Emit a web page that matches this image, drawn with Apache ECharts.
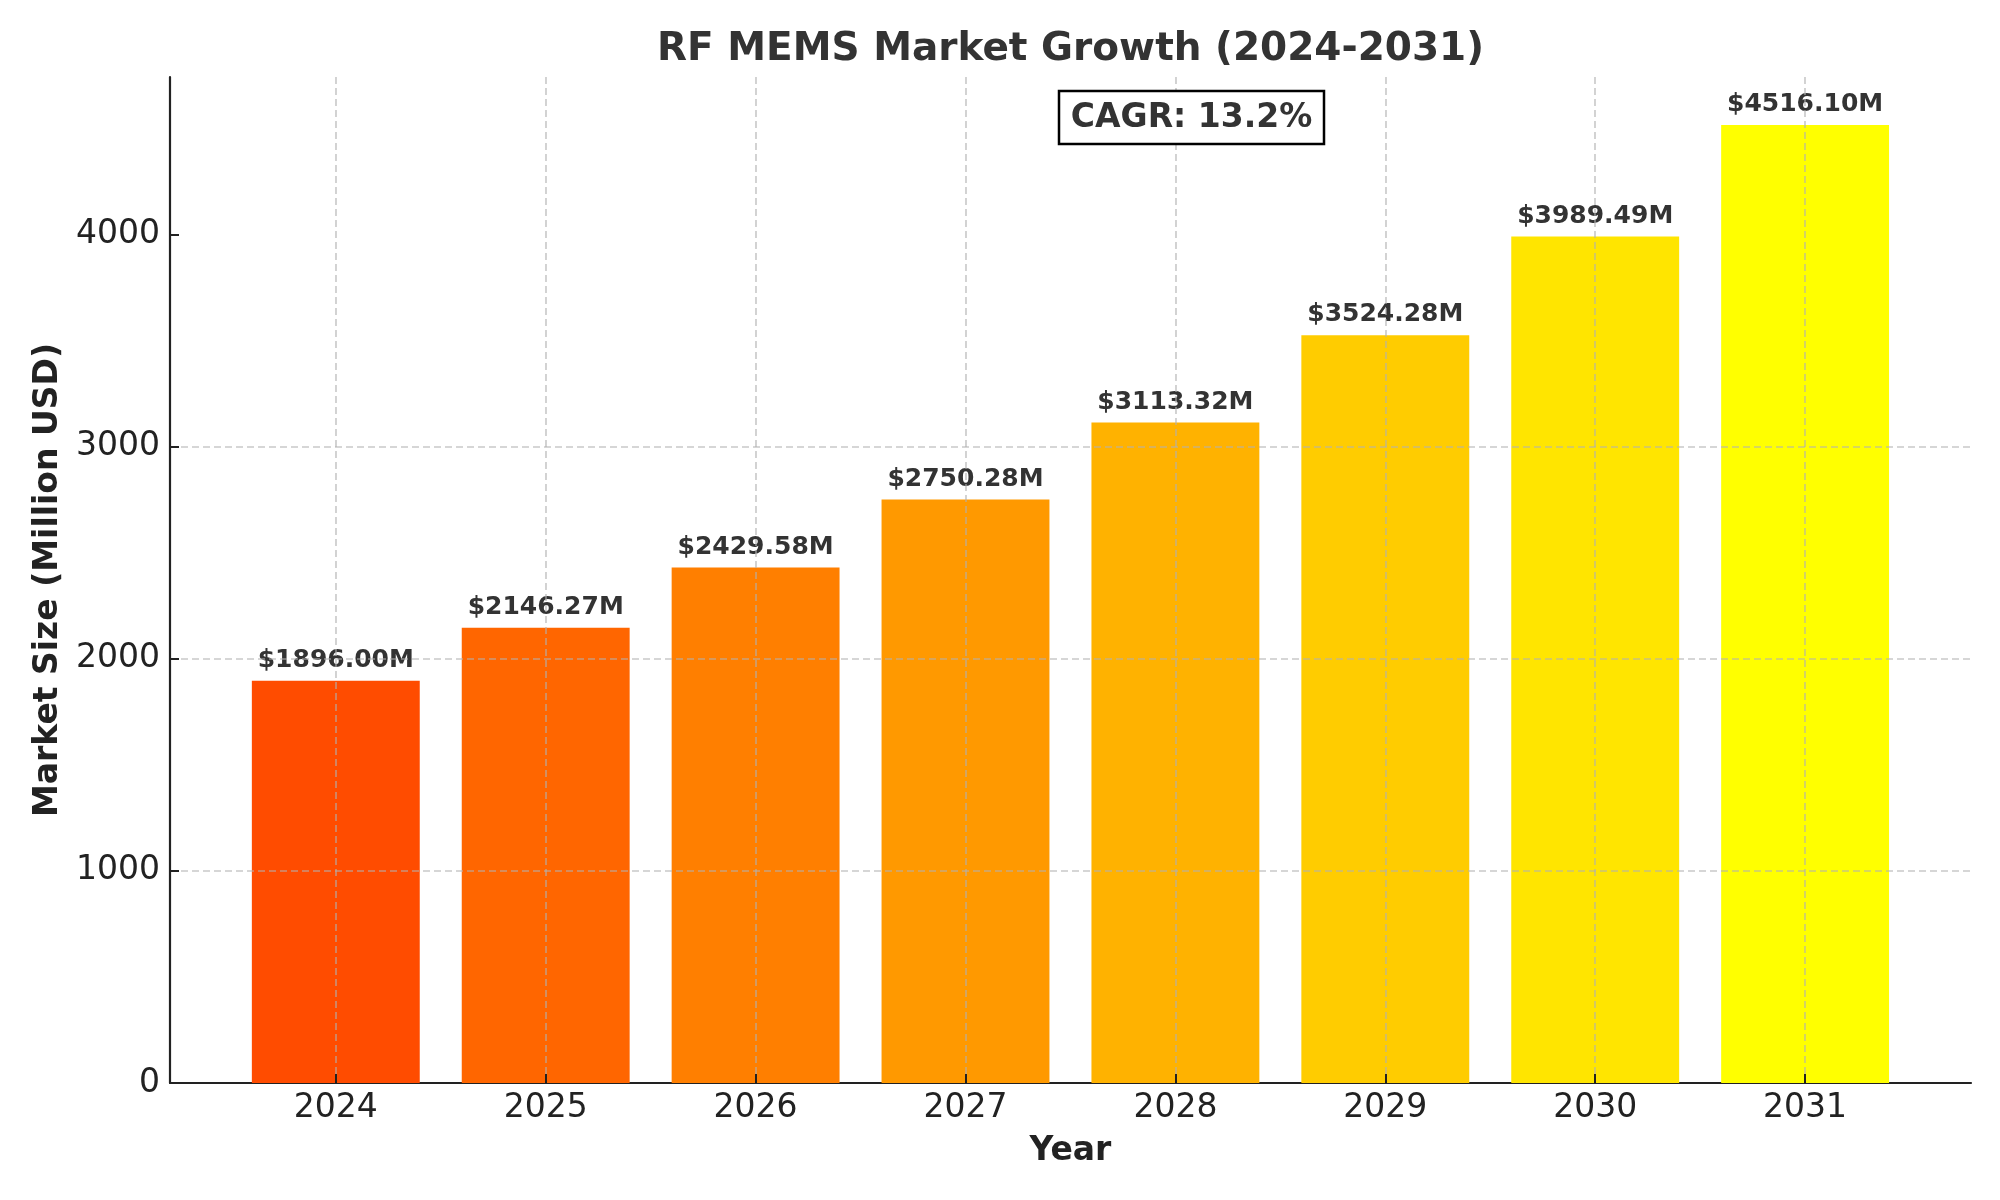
<!DOCTYPE html>
<html>
<head>
<meta charset="utf-8">
<title>RF MEMS Market Growth</title>
<script src="https://cdn.jsdelivr.net/npm/echarts@6/dist/echarts.min.js"></script>
<style>
    html, body { margin: 0; padding: 0; background: #fff; }
    #chart { width: 2000px; height: 1200px; }
</style>
</head>
<body>
<div id="chart"></div>
<script>
// data
var years = ['2024', '2025', '2026', '2027', '2028', '2029', '2030', '2031'];
var marketSize = [1896.00, 2146.27, 2429.58, 2750.28, 3113.32, 3524.28, 3989.49, 4516.10];
var yTicks = [0, 1000, 2000, 3000, 4000];
var chartTitle = 'RF MEMS Market Growth (2024-2031)';
var cagrText = 'CAGR: 13.2%';

// autumn colormap 0.3 -> 1.0
var barColors = ['#ff4c00', '#ff6600', '#ff7f00', '#ff9900', '#ffb200', '#ffcc00', '#ffe500', '#ffff00'];

(function () {
    var font = 'DejaVu Sans';
    var yMax = 4741.9;   // matplotlib margin
    var gridLine = {
        show: true,
        lineStyle: { color: 'rgba(176,176,176,0.7)', width: 1.6, type: [7, 4] }
    };

    var barData = [];
    for (var i = 0; i < marketSize.length; i++) {
        barData.push({ value: marketSize[i], itemStyle: { color: barColors[i] } });
    }

    var option = {
        animation: false,
        backgroundColor: '#fff',
        grid: [
            // frame (spines + y axis)
            { left: 170, right: 29, top: 77, bottom: 117 },
            // bar positions, category 0 and 7 centres
            { left: 335.8, right: 194.9, top: 77, bottom: 117 }
        ],
        xAxis: [
            {
                gridIndex: 0, type: 'value', min: 0, max: 1,
                axisLine: { show: true, lineStyle: { color: '#222', width: 2.2 } },
                axisTick: { show: false }, axisLabel: { show: false }, splitLine: { show: false }
            },
            {
                gridIndex: 1, type: 'category', data: years, boundaryGap: false, z: 3,
                axisLine: { show: false },
                axisTick: { show: true, inside: true, length: 9, lineStyle: { color: '#222', width: 2 } },
                axisLabel: { fontFamily: font, fontSize: 33, color: '#222', margin: 9 },
                splitLine: gridLine,
                name: 'Year', nameLocation: 'middle', nameGap: 52,
                nameTextStyle: { fontFamily: font, fontSize: 33, fontWeight: 'bold', color: '#222' }
            }
        ],
        yAxis: [
            {
                gridIndex: 0, type: 'value', min: 0, max: yMax, interval: 1000, z: 3,
                axisLine: { show: true, lineStyle: { color: '#222', width: 2.2 } },
                axisTick: { show: true, inside: true, length: 9, customValues: yTicks, lineStyle: { color: '#222', width: 2 } },
                axisLabel: {
                    fontFamily: font, fontSize: 33, color: '#222', margin: 10, customValues: yTicks,
                    formatter: function (v) { return String(v); }
                },
                splitLine: { show: true, showMaxLine: false, showMinLine: false, lineStyle: gridLine.lineStyle },
                name: 'Market Size (Million USD)', nameLocation: 'middle', nameGap: 105,
                nameTextStyle: { fontFamily: font, fontSize: 33, fontWeight: 'bold', color: '#222' }
            },
            {
                gridIndex: 1, type: 'value', min: 0, max: yMax, show: false
            }
        ],
        series: [
            {
                type: 'bar',
                xAxisIndex: 1,
                yAxisIndex: 1,
                barWidth: 167.9,
                clip: false,
                z: 2,
                data: barData,
                label: {
                    show: true,
                    position: 'top',
                    distance: 8,
                    fontFamily: font,
                    fontSize: 25,
                    fontWeight: 'bold',
                    color: '#333',
                    formatter: function (p) {
                        return '$' + p.value.toFixed(2) + 'M';
                    }
                }
            }
        ],
        graphic: [
            // title centred over the axes, not the canvas
            {
                type: 'text', z: 11,
                x: 1070.5, y: 50,
                style: {
                    text: chartTitle, fontFamily: font, fontSize: 39, fontWeight: 'bold',
                    fill: '#333', align: 'center', verticalAlign: 'middle'
                }
            },
            {
                type: 'rect', z: 10,
                shape: { x: 1059, y: 91, width: 265, height: 53 },
                style: { fill: '#fff', stroke: '#000', lineWidth: 2.5 }
            },
            {
                type: 'text', z: 11,
                x: 1191.5, y: 118,
                style: {
                    text: cagrText, fontFamily: font, fontSize: 33, fontWeight: 'bold',
                    fill: '#333', align: 'center', verticalAlign: 'middle'
                }
            }
        ]
    };

    var myChart = echarts.init(document.getElementById('chart'));
    myChart.setOption(option);
})();
</script>
</body>
</html>
